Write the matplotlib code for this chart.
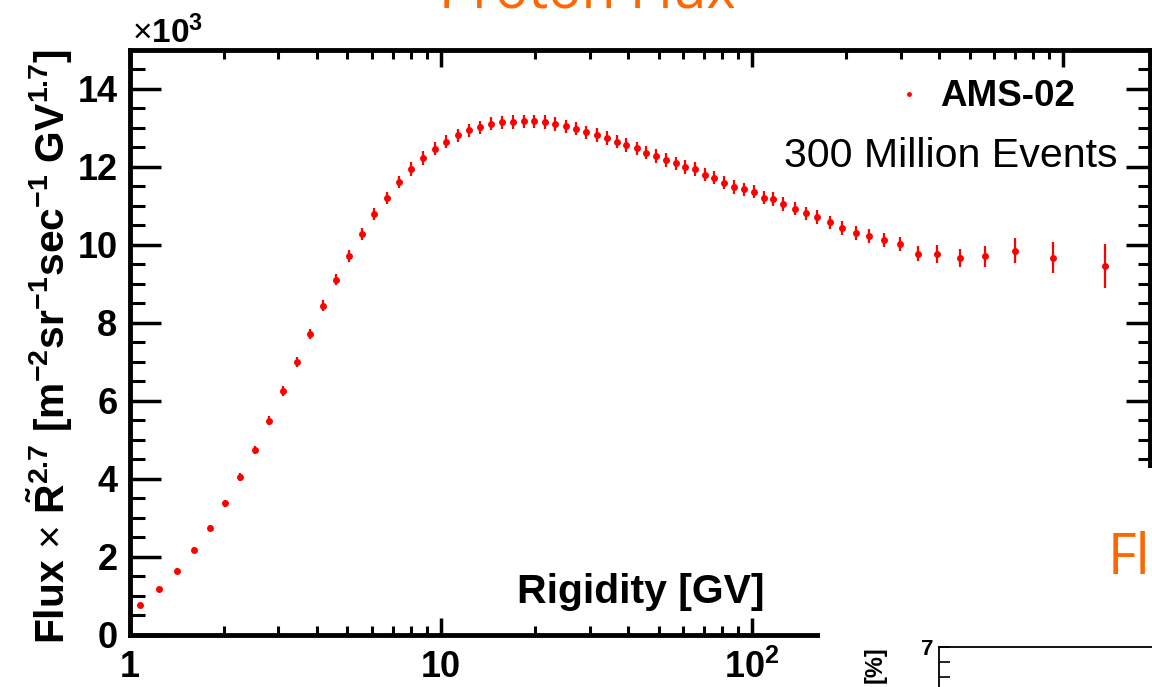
import matplotlib
matplotlib.use("Agg")
import matplotlib.pyplot as plt
from matplotlib.lines import Line2D
from matplotlib.patches import Rectangle
from matplotlib.ticker import (FixedLocator, FixedFormatter, LogLocator,
                               NullFormatter, MultipleLocator)
import numpy as np

# ----------------------------------------------------
# Data (flux x R^2.7 in units of 10^3)
# ----------------------------------------------------
rigidity = [1.08, 1.24, 1.42, 1.61, 1.81, 2.02, 2.26, 2.52, 2.79, 3.10,
            3.44, 3.79, 4.18, 4.61, 5.06, 5.56, 6.10, 6.69, 7.33, 8.01,
            8.73, 9.57, 10.4, 11.3, 12.3, 13.3, 14.5, 15.7, 17.0, 18.5,
            19.9, 21.6, 23.3, 25.2, 27.2, 29.3, 31.6, 34.1, 36.7, 39.4,
            42.5, 45.6, 49.2, 52.9, 56.9, 61.0, 65.4, 70.4, 75.6, 81.3,
            87.4, 93.8, 101, 109, 117, 126, 137, 149, 162, 178,
            195, 215, 237, 265, 299, 342, 394, 464, 560, 697,
            924, 1362]

flux = [0.77, 1.18, 1.65, 2.18, 2.75, 3.37, 4.04, 4.74, 5.49, 6.25,
        7.00, 7.72, 8.44, 9.10, 9.71, 10.27, 10.78, 11.20, 11.61, 11.94,
        12.22, 12.46, 12.64, 12.80, 12.93, 13.01, 13.10, 13.13, 13.14, 13.16,
        13.16, 13.14, 13.09, 13.03, 12.97, 12.88, 12.81, 12.73, 12.64, 12.55,
        12.47, 12.36, 12.27, 12.17, 12.08, 11.99, 11.94, 11.79, 11.72, 11.59,
        11.48, 11.42, 11.36, 11.20, 11.17, 11.04, 10.92, 10.80, 10.71, 10.57,
        10.43, 10.31, 10.21, 10.13, 10.01, 9.77, 9.75, 9.65, 9.70, 9.85,
        9.67, 9.45]

flux_err = [0.04, 0.05, 0.06, 0.07, 0.08, 0.09, 0.10, 0.11, 0.12, 0.12,
            0.13, 0.13, 0.14, 0.14, 0.15, 0.15, 0.16, 0.16, 0.16, 0.17,
            0.17, 0.17, 0.17, 0.17, 0.17, 0.17, 0.17, 0.17, 0.17, 0.17,
            0.17, 0.17, 0.17, 0.17, 0.17, 0.17, 0.17, 0.17, 0.17, 0.17,
            0.17, 0.17, 0.17, 0.17, 0.17, 0.17, 0.17, 0.17, 0.17, 0.17,
            0.17, 0.17, 0.17, 0.17, 0.17, 0.17, 0.17, 0.17, 0.17, 0.17,
            0.17, 0.18, 0.18, 0.18, 0.18, 0.20, 0.23, 0.23, 0.26, 0.32,
            0.40, 0.56]

xtick_vals = [1, 10, 100, 1000]
xtick_labels = ["1", "10", r"$\mathbf{10^{2}}$", r"$\mathbf{10^{3}}$"]

series_label = "AMS-02"
events_text = "300 Million Events"
xlabel = "Rigidity [GV]"
ylabel = (r"Flux $\times$ $\mathbf{\tilde{R}^{2.7}}$ "
          r"[m$^{\mathbf{-2}}$sr$^{\mathbf{-1}}$sec$^{\mathbf{-1}}$ "
          r"GV$^{\mathbf{1.7}}$]")
title = "Proton Flux"
orange = "#FF6600"

# ----------------------------------------------------
# Fonts
# ----------------------------------------------------
plt.rcParams["font.family"] = ["Liberation Sans", "DejaVu Sans"]
plt.rcParams["mathtext.fontset"] = "custom"
plt.rcParams["mathtext.rm"] = "Liberation Sans"
plt.rcParams["mathtext.bf"] = "Liberation Sans:bold"
plt.rcParams["mathtext.it"] = "Liberation Sans:italic"

W, H = 1152, 687
fig = plt.figure(figsize=(W / 100, H / 100), dpi=100)


def fx(px):
    return px / W


def fy(py):
    return 1 - py / H


# ----------------------------------------------------
# Main axes
# ----------------------------------------------------
ax = fig.add_axes([fx(130), fy(635), fx(1150) - fx(130), fy(49.5) - fy(635)])

ax.errorbar(rigidity, flux, yerr=flux_err, fmt="o", color="red",
            ms=5, mew=0, elinewidth=1.6, capsize=0, label=series_label)

ax.set_xscale("log")
ax.set_xlim(1, 1900)
ax.set_ylim(0, 15)

ax.xaxis.set_major_locator(FixedLocator(xtick_vals))
ax.xaxis.set_major_formatter(FixedFormatter(xtick_labels))
ax.xaxis.set_minor_locator(LogLocator(base=10, subs=np.arange(2, 10), numticks=20))
ax.xaxis.set_minor_formatter(NullFormatter())
ax.yaxis.set_major_locator(MultipleLocator(2))
ax.yaxis.set_minor_locator(MultipleLocator(0.5))

for s in ax.spines.values():
    s.set_linewidth(3.5)

ax.tick_params(axis="x", which="both", direction="in", top=True, bottom=True)
ax.tick_params(axis="x", which="major", length=12, width=2.5, pad=11, labelsize=26)
ax.tick_params(axis="x", which="minor", length=6.5, width=2.2)
ax.tick_params(axis="y", which="both", direction="in", left=True, right=False)
ax.tick_params(axis="y", which="major", length=22, width=2.5, pad=9, labelsize=26)
ax.tick_params(axis="y", which="minor", length=11, width=2.2)
for lab in ax.get_xticklabels() + ax.get_yticklabels():
    lab.set_fontweight("bold")

# right side ticks are shorter
twin = ax.twinx()
twin.set_ylim(0, 15)
twin.yaxis.set_major_locator(MultipleLocator(2))
twin.yaxis.set_minor_locator(MultipleLocator(0.5))
twin.tick_params(axis="y", which="both", direction="in", labelright=False)
twin.tick_params(axis="y", which="major", length=17, width=2.5)
twin.tick_params(axis="y", which="minor", length=8.5, width=2.2)
for s in twin.spines.values():
    s.set_visible(False)

handle = Line2D([], [], ls="none", marker="o", color="red", ms=3.5, mew=0)
ax.legend(handles=[handle], labels=[series_label], loc="center left",
          bbox_to_anchor=(fx(894), fy(97)), bbox_transform=fig.transFigure,
          frameon=False, borderpad=0, borderaxespad=0, handlelength=0.8,
          handletextpad=0.45, prop={"weight": "bold", "size": 26.5})

fig.text(fx(1118), fy(167), events_text, ha="right", va="baseline", fontsize=29.6)
fig.text(fx(641), fy(603), xlabel, ha="center", va="baseline",
         fontsize=29.5, fontweight="bold")
fig.text(fx(132), fy(43), r"$\times$$\mathbf{10^{3}}$", ha="left",
         va="baseline", fontsize=24)
fig.text(fx(50), fy(346), ylabel, rotation=90, ha="center", va="center",
         fontsize=29.3, fontweight="bold")

fig.text(fx(587), fy(7), title, ha="center", va="baseline", fontsize=40,
         color=orange, family="Open Sans")

# ----------------------------------------------------
# Overlapping panel in the lower right corner
# ----------------------------------------------------
fig.add_artist(Rectangle((fx(820), 0), 1 - fx(820), fy(468),
                         transform=fig.transFigure, facecolor="white",
                         edgecolor="none", zorder=5))
fig.text(fx(1108), fy(573), "Flux", ha="left", va="baseline", fontsize=40,
         color=orange, family="Open Sans", zorder=7)

iax = fig.add_axes([fx(939), fy(647 + 210), 1 - fx(939) + 0.05, 210 / H], zorder=6)
iax.set_ylim(0, 7)
iax.set_xticks([])
iax.yaxis.set_major_locator(FixedLocator([7]))
iax.yaxis.set_minor_locator(MultipleLocator(0.5))
iax.tick_params(axis="y", which="both", direction="in", length=8, width=1.2,
                pad=4, labelsize=16)
for lab in iax.get_yticklabels():
    lab.set_fontweight("bold")
for side in ["right", "bottom"]:
    iax.spines[side].set_visible(False)
for side in ["top", "left"]:
    iax.spines[side].set_linewidth(1.3)
fig.text(fx(875), fy(665), "[%]", rotation=90, ha="center", va="center",
         fontsize=17, fontweight="bold", zorder=7)

fig.savefig("out.png", dpi=100)
